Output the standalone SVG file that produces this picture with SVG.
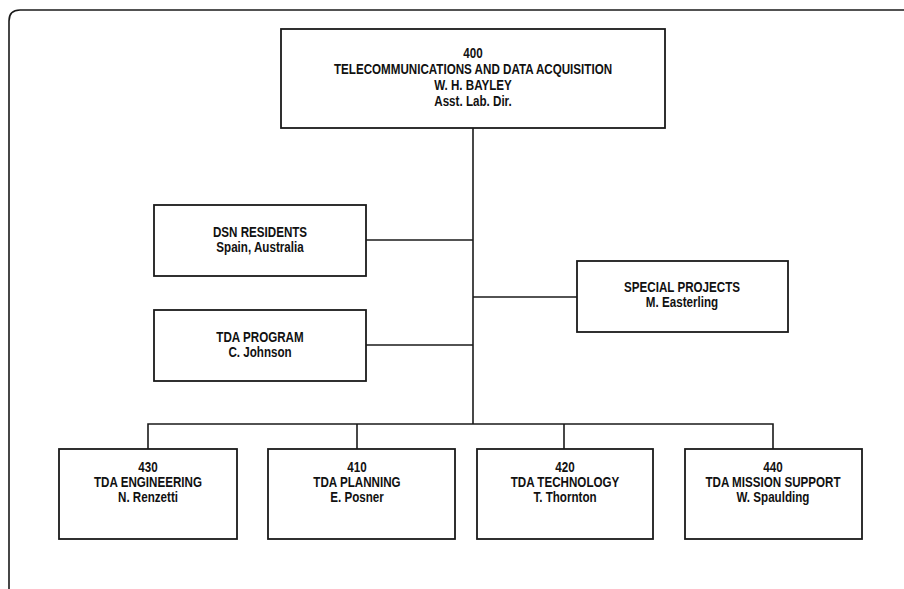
<svg xmlns="http://www.w3.org/2000/svg" width="904" height="589" viewBox="0 0 904 589">
<style>
.frame{fill:none;stroke:#1a1a1a;stroke-width:1.6}
.box{fill:#fff;stroke:#1a1a1a;stroke-width:1.8}
.ln{fill:none;stroke:#1a1a1a;stroke-width:1.6}
text{font-family:"Liberation Sans",Arial,sans-serif;font-weight:bold;font-size:14px;fill:#111;text-anchor:middle}
</style>
<rect width="904" height="589" fill="#fff"/>
<path class="frame" d="M 9 589 L 9 21 Q 9 10 20 10 L 904 10"/>
<g id="connectors">
<path class="ln" d="M 473 128 L 473 424"/>
<path class="ln" d="M 366 240 L 473 240"/>
<path class="ln" d="M 366 345 L 473 345"/>
<path class="ln" d="M 473 297 L 577 297"/>
<path class="ln" d="M 148 449 L 148 424 L 773 424 L 773 449"/>
<path class="ln" d="M 357 424 L 357 449"/>
<path class="ln" d="M 564 424 L 564 449"/>
</g>
<g id="n400">
<rect class="box" x="281" y="29" width="384" height="99"/>
<g transform="translate(473 0) scale(0.83 1)">
<text x="0" y="58">400</text>
<text x="0" y="74">TELECOMMUNICATIONS AND DATA ACQUISITION</text>
<text x="0" y="90">W. H. BAYLEY</text>
<text x="0" y="106">Asst. Lab. Dir.</text>
</g>
</g>
<g id="dsn">
<rect class="box" x="154" y="205" width="212" height="71"/>
<g transform="translate(260 0) scale(0.83 1)">
<text x="0" y="237">DSN RESIDENTS</text>
<text x="0" y="252">Spain, Australia</text>
</g>
</g>
<g id="program">
<rect class="box" x="154" y="310" width="212" height="71"/>
<g transform="translate(260 0) scale(0.83 1)">
<text x="0" y="342">TDA PROGRAM</text>
<text x="0" y="357">C. Johnson</text>
</g>
</g>
<g id="special">
<rect class="box" x="577" y="261" width="211" height="71"/>
<g transform="translate(682 0) scale(0.83 1)">
<text x="0" y="292">SPECIAL PROJECTS</text>
<text x="0" y="307">M. Easterling</text>
</g>
</g>
<g id="n430">
<rect class="box" x="59" y="449" width="178" height="90"/>
<g transform="translate(148 0) scale(0.83 1)">
<text x="0" y="472">430</text>
<text x="0" y="487">TDA ENGINEERING</text>
<text x="0" y="502">N. Renzetti</text>
</g>
</g>
<g id="n410">
<rect class="box" x="268" y="449" width="187" height="90"/>
<g transform="translate(357 0) scale(0.83 1)">
<text x="0" y="472">410</text>
<text x="0" y="487">TDA PLANNING</text>
<text x="0" y="502">E. Posner</text>
</g>
</g>
<g id="n420">
<rect class="box" x="477" y="449" width="176" height="90"/>
<g transform="translate(565 0) scale(0.83 1)">
<text x="0" y="472">420</text>
<text x="0" y="487">TDA TECHNOLOGY</text>
<text x="0" y="502">T. Thornton</text>
</g>
</g>
<g id="n440">
<rect class="box" x="685" y="449" width="177" height="90"/>
<g transform="translate(773 0) scale(0.83 1)">
<text x="0" y="472">440</text>
<text x="0" y="487">TDA MISSION SUPPORT</text>
<text x="0" y="502">W. Spaulding</text>
</g>
</g>
</svg>
